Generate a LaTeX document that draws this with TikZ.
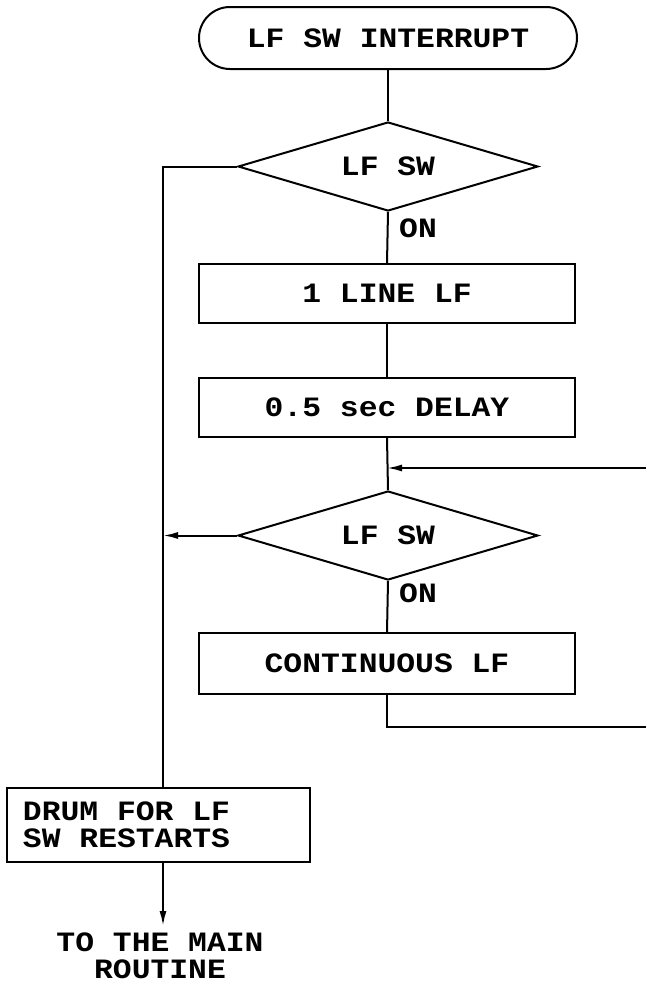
\documentclass[tikz,border=0pt]{standalone}
\usepackage{fontspec}
\setmonofont{Liberation Mono}[WordSpace={1,0,0},FakeStretch=1.12]
\usetikzlibrary{shapes.geometric,arrows.meta}
\newcommand\msp{\hspace*{0.672em}}
\begin{document}
\begin{tikzpicture}[x=1pt,y=-1pt,
  every node/.style={font=\ttfamily\bfseries\fontsize{28}{26.5}\selectfont},
  flow/.style={line width=2pt},
  arr/.style={flow,-{Latex[length=15pt,width=7pt]}},
  terminal/.style={draw,line width=2pt,rectangle,rounded corners=31pt,minimum width=378pt,minimum height=62pt,inner sep=0pt},
  procbox/.style={draw,line width=2pt,rectangle,minimum width=376pt,minimum height=59pt,inner sep=0pt},
  decision/.style={draw,line width=2pt,diamond,shape aspect=3.37,minimum width=300pt,minimum height=89pt,inner sep=0pt},
  lbl/.style={inner sep=0pt,anchor=west}]
\useasboundingbox (0,0) rectangle (646,985);
\node[terminal] (start) at (388,38) {LF\msp SW\msp INTERRUPT};
\node[decision] (d1) at (388,166.5) {LF\msp SW};
\node[lbl] (on1) at (399,228) {ON};
\node[procbox] (b1) at (387,293.5) {1\msp LINE\msp LF};
\node[procbox] (b2) at (387,407.5) {0.5\msp sec\msp DELAY};
\node[decision] (d2) at (388,535.5) {LF\msp SW};
\node[lbl] (on2) at (399,593) {ON};
\node[procbox,minimum height=61pt] (b3) at (387,663.5) {CONTINUOUS\msp LF};
\node[draw,line width=2pt,rectangle,minimum height=74pt,text width=271pt,inner xsep=16pt,inner ysep=0pt,align=left] (drum) at (158.5,825) {DRUM\msp FOR\msp LF\\SW\msp RESTARTS};
\node[align=center,inner sep=0pt] (main) at (160,956) {TO\msp THE\msp MAIN\\ROUTINE};
\coordinate (lx) at (163,166.5);
\coordinate (rin) at (646,468);
\coordinate (rout) at (646,727);
\draw[flow] (start.south) -- (d1.north);
\draw[flow] (d1.south) -- (b1.north);
\draw[flow] (b1.south) -- (b2.north);
\draw[flow] (b2.south) -- (d2.north);
\draw[flow] (d2.south) -- (b3.north);
\draw[arr] (rin) -- (rin -| b2.south);
\draw[flow] (b3.south) |- (rout);
\draw[flow] (d1.west) -- (lx) -- (lx |- drum.north);
\draw[arr] (d2.west) -- (d2.west -| lx);
\draw[arr] (lx |- drum.south) -- (163,926);
\end{tikzpicture}
\end{document}
